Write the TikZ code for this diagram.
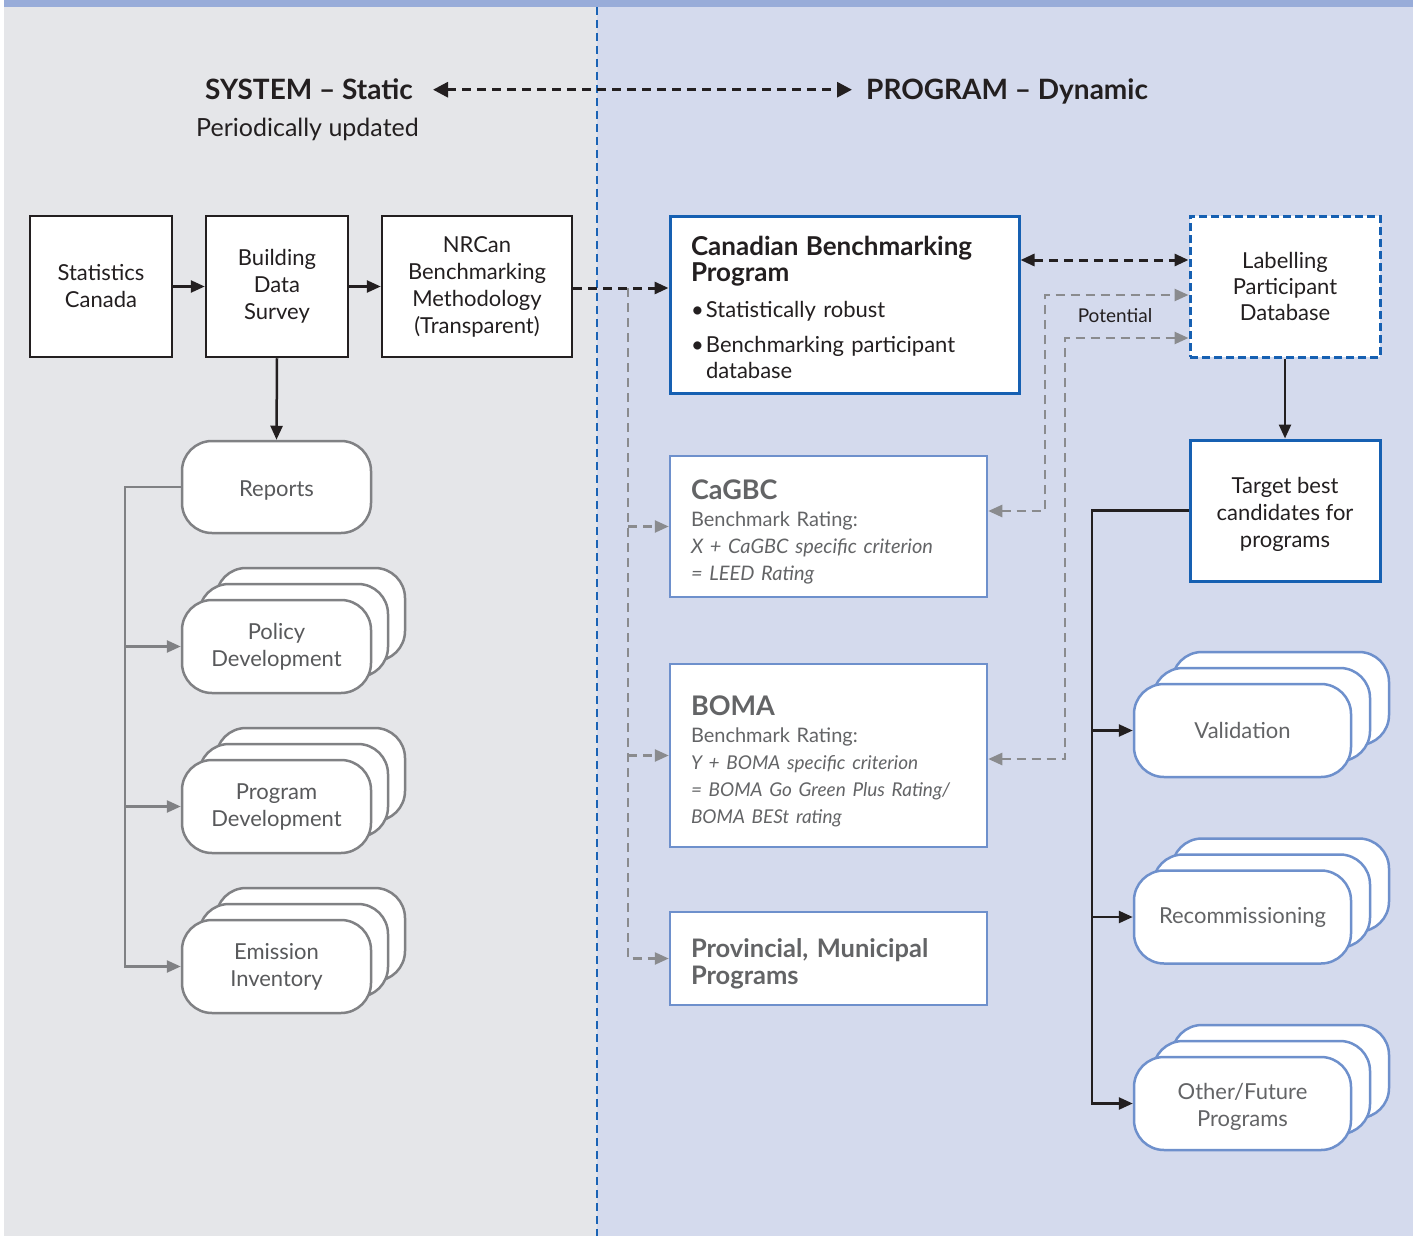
\documentclass[tikz,border=0pt]{standalone}
\usepackage{fontspec}
\setmainfont{Lato}
\usetikzlibrary{arrows.meta,calc}
\definecolor{graybg}{HTML}{E5E6E9}
\definecolor{bluebg}{HTML}{D4DAED}
\definecolor{topband}{HTML}{98ACD9}
\definecolor{divblue}{HTML}{1A63B5}
\definecolor{ink}{HTML}{231F20}
\definecolor{grayline}{HTML}{808184}
\definecolor{graytext}{HTML}{58595B}
\definecolor{bluestrong}{HTML}{1660B2}
\definecolor{bluelite}{HTML}{6E90CC}
\definecolor{cardtext}{HTML}{636466}
\definecolor{gdashc}{HTML}{8A8B8E}
\begin{document}
\begin{tikzpicture}[x=1pt,y=-1pt,
  sqbox/.style={draw=ink, line width=2.5pt, fill=white, align=center, text=ink,
    font=\fontsize{22}{27}\selectfont, inner sep=0pt},
  bluebox/.style={draw=bluestrong, line width=3pt, fill=white, text=ink, inner sep=0pt},
  litebox/.style={draw=bluelite, line width=2.5pt, fill=white, text=cardtext, align=left,
    inner xsep=21pt, inner ysep=0pt, text width=275pt, minimum width=317pt},
  lcard/.style={draw=grayline, line width=2.5pt, fill=white, rounded corners=30pt,
    minimum width=189pt, minimum height=93pt, text=graytext, align=center,
    font=\fontsize{22}{27}\selectfont, inner sep=0pt},
  rcard/.style={draw=bluelite, line width=2.5pt, fill=white, rounded corners=30pt,
    minimum width=217pt, minimum height=93pt, text=cardtext, align=center,
    font=\fontsize{22}{27}\selectfont, inner sep=0pt},
  blk/.style={draw=ink, line width=2.5pt, -{Triangle[length=14pt,width=12pt]}},
  bdash/.style={draw=ink, line width=3pt, dash pattern=on 9pt off 6pt},
  gline/.style={draw=grayline, line width=2.5pt, -{Triangle[length=14pt,width=12pt]}},
  gdash/.style={draw=gdashc, line width=2.5pt, dash pattern=on 9pt off 6pt},
  gtip/.style={-{Triangle[length=14pt,width=12pt]}},
]
\useasboundingbox (0,0) rectangle (1422,1236);
% backgrounds
\fill[white] (0,0) rectangle (1422,1236);
\fill[graybg] (4,7) rectangle (597,1236);
\fill[bluebg] (597,7) rectangle (1413,1236);
\fill[topband] (4,0) rectangle (1413,7);
\draw[divblue, line width=2.5pt, dash pattern=on 8pt off 5pt] (597,7) -- (597,1236);

% header
\node[anchor=base east, inner sep=0pt, text=ink, font=\fontsize{28}{30}\selectfont\bfseries] (sys) at (413,100) {SYSTEM – Static};
\node[anchor=base west, inner sep=0pt, text=ink, font=\fontsize{28}{30}\selectfont\bfseries] (prog) at (866,100) {PROGRAM – Dynamic};
\node[anchor=base west, inner sep=0pt, text=ink, font=\fontsize{25}{28}\selectfont] (periodic) at (196,137) {Periodically updated};
\coordinate (arrL) at ([xshift=20pt]sys.east);
\coordinate (arrR) at (852,91);
\draw[bdash, {Triangle[length=15pt,width=15pt]}-{Triangle[length=15pt,width=15pt]}] (arrL) -- (arrL -| arrR);

% system boxes
\node[sqbox, minimum width=142pt, minimum height=141pt] (stat) at (101,286.5) {Statistics\\Canada};
\node[sqbox, minimum width=142pt, minimum height=141pt] (bds) at (277,286.5) {Building\\Data\\Survey};
\node[sqbox, minimum width=190pt, minimum height=141pt] (nrcan) at (477,286.5) {NRCan\\Benchmarking\\Methodology\\(Transparent)};

% left cards
\node[lcard, minimum height=92pt] (rep) at (276.5,487) {\rule{0pt}{22pt}Reports};
\node[lcard] (pol3) at (310.5,614.5) {};
\node[lcard] (pol2) at (293.5,630.5) {};
\node[lcard] (pol) at (276.5,646.5) {Policy\\Development};
\node[lcard] (prg3) at (310.5,774.5) {};
\node[lcard] (prg2) at (293.5,790.5) {};
\node[lcard] (prg) at (276.5,806.5) {Program\\Development};
\node[lcard] (emi3) at (310.5,934.5) {};
\node[lcard] (emi2) at (293.5,950.5) {};
\node[lcard] (emi) at (276.5,966.5) {Emission\\Inventory};

% program boxes
\node[bluebox, align=left, inner xsep=21pt, text width=307pt, minimum width=349pt, minimum height=177pt,
  font=\fontsize{22}{26}\selectfont] (cbp) at (844.5,304.5)
  {{\fontsize{26}{26}\selectfont\bfseries\rule{0pt}{26pt}Canadian Benchmarking\\Program}\\[10pt]
   \makebox[15pt][l]{\textbullet}Statistically robust\\[9pt]
   \makebox[15pt][l]{\textbullet}Benchmarking participant\\
   \hspace*{15pt}database};
\node[litebox, minimum height=141pt, font=\fontsize{20}{27}\selectfont] (cagbc) at (828.5,526.5)
  {{\fontsize{27}{27}\selectfont\bfseries\rule{0pt}{31pt}CaGBC}\\
   Benchmark Rating:\\
   {\itshape X + CaGBC specific criterion}\\
   {\itshape = LEED Rating}};
\node[litebox, minimum height=183pt, font=\fontsize{20}{27}\selectfont] (boma) at (828.5,755.5)
  {{\fontsize{27}{27}\selectfont\bfseries\rule{0pt}{31pt}BOMA}\\
   Benchmark Rating:\\
   {\itshape\fontsize{19}{27}\selectfont Y + BOMA specific criterion}\\
   {\itshape\fontsize{19}{27}\selectfont = BOMA Go Green Plus Rating/}\\
   {\itshape\fontsize{19}{27}\selectfont BOMA BESt rating}};
\node[litebox, minimum height=93pt, font=\fontsize{25.5}{27}\selectfont\bfseries] (prov) at (828.5,958.5)
  {\rule{0pt}{30pt}Provincial, Municipal\\Programs};

\node[bluebox, dash pattern=on 8pt off 4pt, align=center, minimum width=190pt, minimum height=141pt,
  font=\fontsize{22}{26}\selectfont] (lab) at (1285,286.5) {Labelling\\Participant\\Database};
\node[bluebox, align=center, minimum width=190pt, minimum height=141pt,
  font=\fontsize{22}{27}\selectfont] (tgt) at (1285,510.5) {\rule{0pt}{24pt}Target best\\candidates for\\programs};

% right cards
\node[rcard] (val3) at (1280.5,698.5) {};
\node[rcard] (val2) at (1261.5,714.5) {};
\node[rcard] (val) at (1242.5,730.5) {Validation};
\node[rcard] (rec3) at (1280.5,885) {};
\node[rcard] (rec2) at (1261.5,901) {};
\node[rcard] (rec) at (1242.5,917) {Recommissioning};
\node[rcard] (oth3) at (1280.5,1071.5) {};
\node[rcard] (oth2) at (1261.5,1087.5) {};
\node[rcard] (oth) at (1242.5,1103.5) {\rule{0pt}{22pt}Other/Future\\Programs};

\node[text=ink, inner sep=0pt, font=\fontsize{19}{22}\selectfont] (pot) at (1115,316) {Potential};

% connectors: system
\draw[blk] (stat) -- (bds);
\draw[blk] (bds) -- (nrcan);
\draw[blk] (bds.south) -- (rep.north);
\coordinate (gt) at (125,487);
\draw[gline] (rep.west) -- (gt) |- (emi.west);
\draw[gline] (gt |- pol.west) -- (pol.west);
\draw[gline] (gt |- prg.west) -- (prg.west);

% gray dashed trunk
\coordinate (gd) at (628,288);
\draw[gdash, gtip] (gd) |- (prov.west);
\draw[gdash, gtip] (gd |- cagbc.west) -- (cagbc.west);
\draw[gdash, gtip] (gd |- boma.west) -- (boma.west);
% NRCan -> CBP
\draw[bdash, -{Triangle[length=14pt,width=12pt]}] (nrcan.east |- gd) -- (gd -| cbp.west);

% CBP <-> Labelling
\coordinate (lw1) at ([yshift=26.5pt]lab.west);
\draw[bdash, {Triangle[length=14pt,width=12pt]}-{Triangle[length=14pt,width=12pt]}] (lw1 -| cbp.east) -- (lw1);

% potential links
\coordinate (ca1) at ([yshift=15.5pt]cagbc.east);
\coordinate (t1) at (1045,295);
\draw[gdash, {Triangle[length=14pt,width=12pt]}-{Triangle[length=14pt,width=12pt]}] (ca1) -| (t1) -- (t1 -| lab.west);
\coordinate (bo1) at ([yshift=-3.5pt]boma.east);
\coordinate (t2) at (1065,338);
\draw[gdash, {Triangle[length=14pt,width=12pt]}-{Triangle[length=14pt,width=12pt]}] (bo1) -| (t2) -- (t2 -| lab.west);

% labelling -> target -> programs
\draw[blk] (lab.south) -- (tgt.north);
\coordinate (bt) at (1092,510.5);
\draw[blk] (tgt.west) -- (bt) |- (oth.west);
\draw[blk] (bt |- val.west) -- (val.west);
\draw[blk] (bt |- rec.west) -- (rec.west);
\end{tikzpicture}
\end{document}
